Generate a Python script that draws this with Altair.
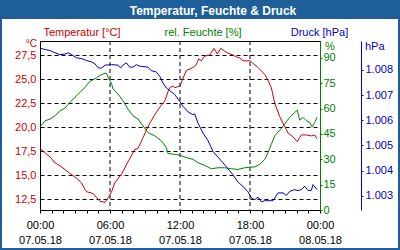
import json
import altair as alt
import pandas as pd

# ---------------- data (hours since 07.05.18 00:00) ----------------
temp_h = [0, 0.86, 1.29, 1.71, 2.57, 3.14, 3.57, 3.86, 4.0, 4.57, 5.14, 5.57, 5.86, 6.14, 6.4,
          6.97, 7.54, 8.12, 8.4, 8.83, 9.26, 9.83, 10.4, 10.69, 10.97, 11.12, 11.4, 11.55, 12.0,
          12.26, 12.54, 13.11, 13.4, 13.6, 13.83, 14.12, 14.55, 14.91, 15.2, 15.49, 15.83, 16.11,
          16.54, 16.83, 17.12, 17.4, 17.97, 18.11, 18.69, 19.26, 19.54, 19.83, 20.12, 20.55, 20.97,
          21.26, 21.69, 22.05, 22.4, 22.83, 23.26, 23.55, 23.74]
temp_v = [17.8, 16.9, 16.3, 16.0, 15.2, 14.7, 14.2, 13.5, 13.3, 13.1, 12.3, 12.2, 12.7, 13.3, 14.2,
          15.1, 16.4, 17.7, 17.8, 18.9, 20.1, 21.3, 22.3, 22.7, 23.7, 24.1, 24.3, 24.1, 24.3,
          25.1, 25.9, 26.2, 26.5, 27.1, 26.9, 27.4, 27.5, 28.2, 27.6, 28.2, 27.9, 27.7,
          27.5, 27.3, 27.2, 26.9, 26.9, 26.8, 26.2, 25.5, 24.9, 24.1, 22.5, 21.1, 20.1,
          19.4, 19.0, 18.5, 19.2, 19.2, 19.1, 19.2, 18.8]

hum_h = [0, 0.43, 0.86, 1.29, 1.71, 2.14, 2.57, 3.0, 3.43, 3.86, 4.29, 4.71, 5.14, 5.57, 5.72,
         5.83, 6.14, 6.26, 6.69, 7.11, 7.54, 7.97, 8.4, 8.83, 9.26, 9.83, 10.4, 10.83, 10.97, 11.55,
         11.97, 12.54, 13.11, 13.54, 14.12, 14.68, 15.26, 15.83, 16.4, 16.97, 17.55, 17.97, 18.4,
         18.83, 19.26, 19.54, 19.83, 20.12, 20.55, 20.97, 21.4, 21.83, 22.05, 22.26, 22.54, 22.83,
         23.12, 23.31, 23.55, 23.74]
hum_v = [49.2, 52.8, 53.8, 55.8, 58.7, 60.3, 63.7, 66.7, 69.6, 72.6, 76.2, 77.6, 79.6, 81.0, 80.6,
         78.6, 74.6, 71.6, 68.6, 64.7, 59.7, 55.8, 53.8, 49.8, 45.8, 43.9, 40.9, 36.9, 33.5, 32.9,
         32.5, 31.0, 30.0, 28.0, 26.4, 24.4, 25.0, 25.0, 24.4, 24.0, 25.0, 25.4, 25.4,
         27.0, 30.0, 33.9, 38.9, 43.9, 47.2, 50.8, 54.8, 57.7, 59.1, 53.2, 54.8, 52.8,
         51.8, 49.2, 51.8, 54.8]

pres_h = [0, 0.43, 0.86, 1.29, 1.71, 2.14, 2.43, 2.71, 3.14, 3.57, 4.0, 4.43, 4.71, 5.0, 5.29,
          5.57, 6.14, 6.69, 6.91, 7.11, 7.4, 7.69, 7.97, 8.26, 8.54, 9.26, 9.54, 9.97, 10.26, 10.54,
          10.83, 11.12, 11.55, 11.97, 12.26, 12.69, 13.11, 13.26, 13.54, 13.97, 14.4, 14.83, 15.26,
          15.69, 16.11, 16.54, 16.97, 17.4, 17.83, 18.11, 18.4, 18.69, 18.97, 19.26, 19.97, 20.4,
          20.83, 21.12, 21.4, 21.83, 22.11, 22.4, 22.69, 22.97, 23.26, 23.4, 23.74]
pres_v = [1008.87, 1008.81, 1008.77, 1008.68, 1008.61, 1008.63, 1008.68, 1008.61, 1008.48, 1008.45,
          1008.37, 1008.32, 1008.24, 1008.08, 1008.08, 1008.19, 1008.21, 1008.19, 1008.08, 1008.19,
          1008.28, 1008.11, 1008.11, 1008.21, 1008.15, 1008.11, 1007.97, 1007.92, 1007.75, 1007.48,
          1007.28, 1007.18, 1007.02, 1006.75, 1006.55, 1006.33, 1006.22, 1006.25, 1005.89, 1005.49,
          1005.19, 1004.76, 1004.53, 1004.30, 1004.07, 1003.83, 1003.54, 1003.37, 1003.15, 1002.91,
          1002.84, 1002.94, 1002.75, 1002.80, 1002.80, 1003.11, 1003.11, 1003.01, 1003.17, 1003.24,
          1003.20, 1003.24, 1003.37, 1003.21, 1003.21, 1003.44, 1003.24]

x_label_times = ["00:00", "06:00", "12:00", "18:00", "00:00"]
x_label_dates = ["07.05.18", "07.05.18", "07.05.18", "07.05.18", "08.05.18"]
x_grid_hours = [6, 12, 18]
temp_ticks = [12.5, 15, 17.5, 20, 22.5, 25, 27.5]
hum_ticks = [0, 15, 30, 45, 60, 75, 90]
pres_ticks = [1003, 1004, 1005, 1006, 1007, 1008]

title_text = "Temperatur, Feuchte & Druck"
legend_texts = ["Temperatur [°C]", "rel. Feuchte [%]", "Druck [hPa]"]
unit_texts = ["°C", "%", "hPa"]

# ---------------- style ----------------
RED = "#cc0000"
GREEN = "#008000"
BLUE = "#0000cc"
BAR = "#1f5f99"
FONT = "Liberation Sans"

df_t = pd.DataFrame({"h": temp_h, "v": temp_v})
df_hu = pd.DataFrame({"h": hum_h, "v": hum_v})
df_p = pd.DataFrame({"h": pres_h, "v": pres_v})
df_g = pd.DataFrame({"h": x_grid_hours})
one = pd.DataFrame({"k": [0]})

xscale = alt.Scale(domain=[0, 24], nice=False, zero=False)

x_expr = (f"datum.value % 6 == 0 ? [{json.dumps(x_label_times)}[datum.value / 6], "
          f"{json.dumps(x_label_dates)}[datum.value / 6]] : ''")

x_axis = alt.Axis(values=list(range(25)), labelExpr=x_expr, title=None, grid=False,
                  domainColor="black", tickColor="black", tickSize=3, labelPadding=6,
                  labelLineHeight=15, labelColor="black", labelAngle=0,
                  labelOverlap=False, labelFlush=False, labelBaseline="top")

X = alt.X("h:Q", scale=xscale, axis=x_axis)

temp_line = alt.Chart(df_t).mark_line(color=RED, strokeWidth=1).encode(
    x=X,
    y=alt.Y("v:Q", scale=alt.Scale(domain=[11.4, 28.96], nice=False, zero=False),
            axis=alt.Axis(orient="left", values=temp_ticks, title=None,
                          labelExpr="replace(format(datum.value, '.1f'), '.', ',')",
                          labelColor=RED, domainColor="black", ticks=False, tickSize=0,
                          labelPadding=4, grid=True, gridColor="black", gridDash=[4, 3],
                          gridOpacity=1, labelFlush=False, labelOverlap=False)),
)

hum_line = alt.Chart(df_hu).mark_line(color=GREEN, strokeWidth=1).encode(
    x=X,
    y=alt.Y("v:Q", scale=alt.Scale(domain=[0, 100], nice=False, zero=False),
            axis=alt.Axis(orient="right", values=hum_ticks, title=None, format="d",
                          labelColor=GREEN, domainColor=GREEN, tickColor=GREEN,
                          tickSize=2, labelPadding=1, grid=False,
                          labelFlush=False, labelOverlap=False)),
)

pres_line = alt.Chart(df_p).mark_line(color=BLUE, strokeWidth=1).encode(
    x=X,
    y=alt.Y("v:Q", scale=alt.Scale(domain=[1002.43, 1009.15], nice=False, zero=False),
            axis=alt.Axis(orient="right", values=pres_ticks, title=None, offset=41,
                          labelExpr="replace(format(datum.value, ',.0f'), ',', '.')",
                          labelColor=BLUE, domainColor=BLUE, tickColor=BLUE,
                          tickSize=2, labelPadding=2, grid=False,
                          labelFlush=False, labelOverlap=False)),
)

vgrid = alt.Chart(df_g).mark_rule(color="black", strokeWidth=1, strokeDash=[4, 3]).encode(
    x=X,
)

bar = alt.Chart(one).mark_rect(color=BAR).encode(
    x=alt.value(-40), x2=alt.value(360), y=alt.value(-41), y2=alt.value(-22))
frame = alt.Chart(one).mark_rect(fill=None, stroke=BAR, strokeWidth=2, fillOpacity=0).encode(
    x=alt.value(-39), x2=alt.value(359), y=alt.value(-40), y2=alt.value(208))


def txt(text, x, y, color, align="center", bold=False, size=11):
    return alt.Chart(one).mark_text(
        text=text, color=color, align=align, baseline="alphabetic", font=FONT,
        fontSize=size, fontWeight="bold" if bold else "normal",
    ).encode(x=alt.value(x), y=alt.value(y))


title = txt(title_text, 173, -26.5, "white", bold=True, size=12)
leg1 = txt(legend_texts[0], 42, -5, RED)
leg2 = txt(legend_texts[1], 163, -5, GREEN)
leg3 = txt(legend_texts[2], 279.5, -5, BLUE)
u1 = txt(unit_texts[0], -3, 6, RED, align="right", size=10)
u2 = txt(unit_texts[1], 285, 9, GREEN, align="left")
u3 = txt(unit_texts[2], 325, 9, BLUE, align="left")

chart = alt.layer(
    vgrid, temp_line, hum_line, pres_line, bar, frame, title, leg1, leg2, leg3, u1, u2, u3
).resolve_scale(y="independent").properties(
    width=280, height=169,
    autosize=alt.AutoSizeParams(type="none"),
    padding={"left": 40, "top": 41, "right": 80, "bottom": 40},
    background="white",
).configure_view(stroke="black", strokeWidth=1).configure_axis(
    labelFont=FONT, labelFontSize=11, grid=False
)

chart.save("out.html", embed_options={"renderer": "svg", "actions": False})
